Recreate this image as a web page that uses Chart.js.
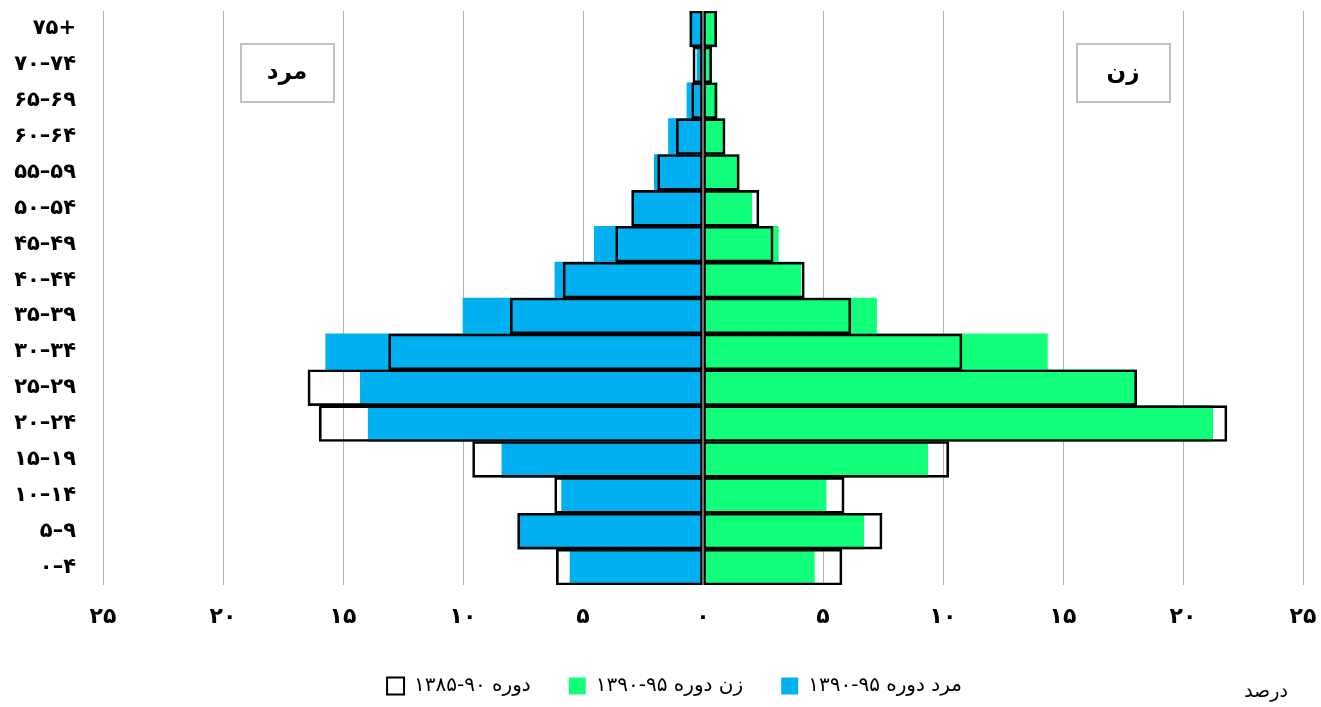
<!DOCTYPE html>
<html>
<head>
<meta charset="utf-8">
<script src="https://cdn.jsdelivr.net/npm/chart.js@4/dist/chart.umd.min.js"></script>
<style>
  body { margin: 0; background: #fff; }
  #wrap { width: 1321px; height: 707px; }
</style>
</head>
<body>
<div id="wrap"><canvas id="pyramid"></canvas></div>
<script>
// age groups, top to bottom
const ageGroups = ['۷۵+', '۷۰–۷۴', '۶۵–۶۹', '۶۰–۶۴', '۵۵–۵۹', '۵۰–۵۴', '۴۵–۴۹', '۴۰–۴۴',
  '۳۵–۳۹', '۳۰–۳۴', '۲۵–۲۹', '۲۰–۲۴', '۱۵–۱۹', '۱۰–۱۴', '۵–۹', '۰–۴'];

// percent of population
const maleNew = [0.55, 0.25, 0.67, 1.44, 2.03, 2.97, 4.53, 6.17, 10.0, 15.72, 14.28, 13.95, 8.38, 5.89, 7.72, 5.54];
const maleOld = [0.55, 0.42, 0.47, 1.11, 1.89, 2.97, 3.64, 5.83, 8.03, 13.1, 16.46, 15.99, 9.6, 6.18, 7.72, 6.11];
const femaleNew = [0.55, 0.25, 0.6, 0.9, 1.5, 2.03, 3.14, 4.08, 7.23, 14.35, 18.05, 21.24, 9.36, 5.13, 6.7, 4.64];
const femaleOld = [0.57, 0.36, 0.58, 0.92, 1.51, 2.33, 2.92, 4.22, 6.16, 10.79, 18.07, 21.83, 10.24, 5.88, 7.46, 5.79];

const seriesNames = ['دوره ۹۰-۱۳۸۵', 'زن دوره ۹۵-۱۳۹۰', 'مرد دوره ۹۵-۱۳۹۰'];

const faDigits = '۰۱۲۳۴۵۶۷۸۹';
const toFa = n => String(n).replace(/\d/g, d => faDigits[d]);
const LRM = '\u200E';

// zero line, side boxes and unit label
const extras = {
  id: 'extras',
  afterLayout(chart) {
    // legend sits a little right of the canvas centre
    const lg = chart.legend;
    lg.left = 46;
    lg.width = lg.right - lg.left;
  },
  afterDatasetsDraw(chart) {
    const { ctx, chartArea, scales } = chart;
    const x0 = scales.x.getPixelForValue(0);
    ctx.save();
    ctx.strokeStyle = '#6e6e6e';
    ctx.lineWidth = 2;
    ctx.beginPath();
    ctx.moveTo(x0, chartArea.top);
    ctx.lineTo(x0, chartArea.bottom);
    ctx.stroke();

    ctx.strokeStyle = '#c0c0c0';
    ctx.lineWidth = 2;
    ctx.fillStyle = '#fff';
    ctx.fillRect(241, 44, 93, 58);
    ctx.strokeRect(241, 44, 93, 58);
    ctx.fillRect(1077, 44, 93, 58);
    ctx.strokeRect(1077, 44, 93, 58);

    ctx.fillStyle = '#000';
    ctx.textAlign = 'center';
    ctx.textBaseline = 'middle';
    ctx.direction = 'rtl';
    ctx.font = 'bold 23px "DejaVu Sans"';
    ctx.fillText('مرد', 287, 73);
    ctx.fillText('زن', 1123, 73);

    ctx.font = '19px "DejaVu Sans"';
    ctx.fillText('درصد', 1266, 692);
    ctx.restore();
  }
};

new Chart(document.getElementById('pyramid'), {
  type: 'bar',
  data: {
    labels: ageGroups.map(g => LRM + g + LRM),
    datasets: [
      {
        label: seriesNames[0],
        data: maleOld.map(v => -v),
        backgroundColor: 'rgba(0,0,0,0)',
        borderColor: '#000',
        borderWidth: 2,
        borderSkipped: false,
        order: 0
      },
      {
        label: seriesNames[0],
        data: femaleOld,
        backgroundColor: 'rgba(0,0,0,0)',
        borderColor: '#000',
        borderWidth: 2,
        borderSkipped: false,
        order: 1
      },
      {
        label: seriesNames[1],
        data: femaleNew,
        backgroundColor: '#12FF7B',
        borderWidth: 0,
        order: 2
      },
      {
        label: seriesNames[2],
        data: maleNew.map(v => -v),
        backgroundColor: '#00B0F0',
        borderWidth: 0,
        order: 3
      }
    ]
  },
  options: {
    indexAxis: 'y',
    responsive: true,
    maintainAspectRatio: false,
    animation: false,
    grouped: false,
    barPercentage: 1,
    categoryPercentage: 1,
    layout: { padding: { top: 11, right: 18, bottom: 1, left: 0 } },
    scales: {
      x: {
        min: -25,
        max: 25,
        afterFit(scale) {
          scale.height = 53;
          scale.paddingLeft = 0;
          scale.paddingRight = 0;
        },
        ticks: {
          stepSize: 5,
          padding: 19,
          color: '#000',
          font: { family: 'DejaVu Sans', size: 22, weight: 'bold' },
          callback: v => toFa(Math.abs(v))
        },
        grid: { color: '#b3b3b3', lineWidth: 1, drawTicks: false },
        border: { display: false }
      },
      y: {
        afterFit(scale) {
          scale.width = 103;
          scale.paddingTop = 0;
          scale.paddingBottom = 0;
        },
        ticks: {
          padding: 27,
          color: '#000',
          font: { family: 'DejaVu Sans', size: 21, weight: 'bold' }
        },
        grid: { display: false, drawTicks: false },
        border: { display: false }
      }
    },
    plugins: {
      tooltip: { enabled: false },
      legend: {
        position: 'bottom',
        textDirection: 'rtl',
        labels: {
          color: '#000',
          boxWidth: 17,
          boxHeight: 17,
          padding: 38,
          font: { family: 'DejaVu Sans', size: 20 },
          filter: (item, data) => item.datasetIndex !== 1
        }
      }
    }
  },
  plugins: [extras]
});
</script>
</body>
</html>
